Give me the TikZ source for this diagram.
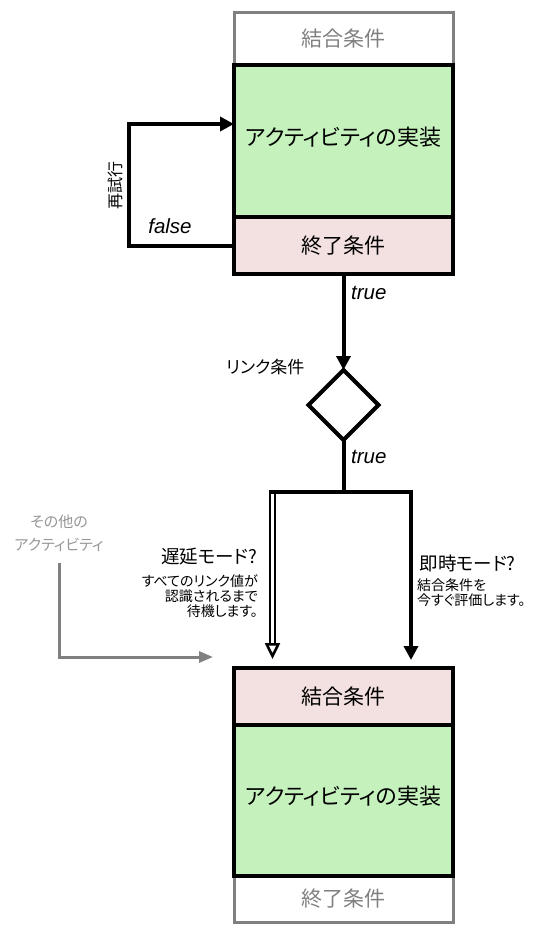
\documentclass[tikz,border=0pt]{standalone}
\usepackage{fontspec}
\setmainfont{Liberation Sans}
\newfontfamily\jp[RawFeature=+palt]{Noto Sans CJK JP}
\definecolor{actgreen}{RGB}{196,241,188}
\definecolor{condpink}{RGB}{243,225,225}
\definecolor{framegray}{RGB}{128,128,128}
\definecolor{notegray}{RGB}{150,150,150}
\usetikzlibrary{arrows.meta,positioning,shapes.geometric,calc}

\begin{document}
\begin{tikzpicture}[x=1pt, y=-1pt,
  actpart/.style={draw=black, line width=4pt, minimum width=219pt, inner sep=0pt,
    outer sep=0pt, anchor=north, font=\jp\fontsize{21}{24}\selectfont},
  greypart/.style={actpart, draw=framegray, line width=3pt, text=framegray},
  implpart/.style={actpart, fill=actgreen, font=\jp\fontsize{22}{24}\selectfont,
    text depth=10pt},
  decision/.style={diamond, draw, line width=4pt, minimum width=70pt,
    minimum height=70pt, inner sep=0pt, outer sep=0pt},
  flow/.style={line width=4pt, -{Triangle[length=14pt,width=14pt]}},
  hollow/.style={double, double distance=2.5pt, line width=2.5pt,
    -{Triangle[open,length=16pt,width=15pt]}},
  greyflow/.style={framegray, line width=3pt, -{Triangle[length=14pt,width=11pt]}},
  label/.style={font=\jp\fontsize{18.5}{21}\selectfont},
  note/.style={font=\jp\fontsize{14}{15}\selectfont},
  tf/.style={font=\itshape\fontsize{20.5}{22}\selectfont, inner sep=2pt}]

\useasboundingbox (0,0) rectangle (555,932);

% upper activity
\node[greypart, minimum height=53pt] (join1) at (343.5,12) {結合条件};
\node[implpart, minimum height=152pt, below=0pt of join1] (impl1) {アクティビティの実装};
\node[actpart, fill=condpink, minimum height=57pt, below=0pt of impl1] (exit1) {終了条件};

% retry loop
\draw[flow] (exit1.west) -- ++(-105,0) |- ([yshift=17pt]impl1.west);
\node[rotate=90, font=\jp\fontsize{16}{19}\selectfont] (retry) at (115,185) {再試行};
\node[tf] (false) at (170,226) {false};

% link condition
\node[decision] (link) at (343.5,405) {};
\node[font=\jp\fontsize{17}{20}\selectfont, anchor=east] (linklbl) at (308,367) {リンク条件};
\draw[flow] (exit1.south) -- (link.north);
\node[tf, anchor=west] (true1) at (349,293) {true};
\node[tf, anchor=west] (true2) at (349,457) {true};

% split into the two modes
\coordinate (split) at (343.5,492);
\coordinate (barL) at (269,492);
\coordinate (barR) at (413,492);
\coordinate (delayTop) at (272.5,492);
\coordinate (delayEnd) at (272.5,659);
\coordinate (nowTop) at (411,492);
\coordinate (nowEnd) at (411,660);
\draw[hollow] (delayTop) -- (delayEnd);
\draw[flow] (nowTop) -- (nowEnd);
\draw[line width=4pt] (link.south) -- (split);
\draw[line width=4pt] (barL) -- (barR);

\node[label, anchor=east] (delay) at (261,557) {遅延モード?};
\node[note, anchor=north east, align=right, inner sep=0pt] (delaynote) at (258,574)
  {すべてのリンク値が\\認識されるまで\\待機します。};
\node[label, anchor=west] (now) at (416,563) {即時モード?};
\node[note, anchor=north west, align=left, inner sep=0pt] (nownote) at (417,579)
  {結合条件を\\今すぐ評価します。};

% other activities
\node[note, text=notegray, align=center, font=\jp\fontsize{15}{23}\selectfont] (other) at (59,533)
  {その他の\\アクティビティ};
\coordinate (otherEnd) at (213,657);
\draw[greyflow] ([yshift=-8pt]other.south) |- (otherEnd);

% lower activity
\node[greypart, minimum height=46pt] (exit2) at (343.5,876) {終了条件};
\node[actpart, fill=condpink, minimum height=57pt] (join2) at (343.5,668) {結合条件};
\node[implpart, minimum height=151pt, below=0pt of join2] (impl2) {アクティビティの実装};

\end{tikzpicture}
\end{document}
